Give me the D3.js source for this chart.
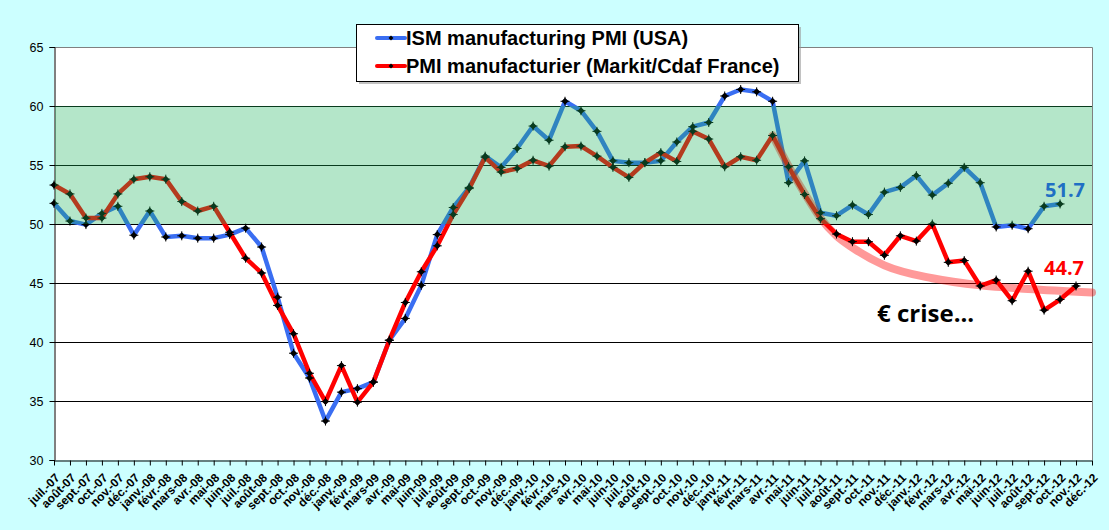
<!DOCTYPE html>
<html>
<head>
<meta charset="utf-8">
<script src="https://cdn.jsdelivr.net/npm/d3@7"></script>
<style>
  html, body { margin: 0; padding: 0; background: #ccffff; }
  svg { display: block; font-family: "Liberation Sans", Arial, sans-serif; }
</style>
</head>
<body>
<svg id="chart"></svg>
<script>
// month labels, juil.-07 .. déc.-12
const months = [
  'juil.-07', 'août-07', 'sept.-07', 'oct.-07', 'nov.-07', 'déc.-07',
  'janv.-08', 'févr.-08', 'mars-08', 'avr.-08', 'mai-08', 'juin-08',
  'juil.-08', 'août-08', 'sept.-08', 'oct.-08', 'nov.-08', 'déc.-08',
  'janv.-09', 'févr.-09', 'mars-09', 'avr.-09', 'mai-09', 'juin-09',
  'juil.-09', 'août-09', 'sept.-09', 'oct.-09', 'nov.-09', 'déc.-09',
  'janv.-10', 'févr.-10', 'mars-10', 'avr.-10', 'mai-10', 'juin-10',
  'juil.-10', 'août-10', 'sept.-10', 'oct.-10', 'nov.-10', 'déc.-10',
  'janv.-11', 'févr.-11', 'mars-11', 'avr.-11', 'mai-11', 'juin-11',
  'juil.-11', 'août-11', 'sept.-11', 'oct.-11', 'nov.-11', 'déc.-11',
  'janv.-12', 'févr.-12', 'mars-12', 'avr.-12', 'mai-12', 'juin-12',
  'juil.-12', 'août-12', 'sept.-12', 'oct.-12', 'nov.-12', 'déc.-12'
];

const ismUSA = [
  51.75, 50.25, 49.95, 50.9, 51.5, 49.05,
  51.1, 48.9, 49.0, 48.8, 48.8, 49.1,
  49.65, 48.05, 43.8, 39.05, 36.95, 33.3,
  35.75, 36.05, 36.6, 40.15, 42.0, 44.8,
  49.1, 51.4, 53.1, 55.75, 54.8, 56.4,
  58.3, 57.1, 60.4, 59.6, 57.85, 55.35,
  55.2, 55.2, 55.35, 56.95, 58.25, 58.6,
  60.85, 61.4, 61.2, 60.4, 53.5, 55.35,
  50.95, 50.7, 51.6, 50.8, 52.7, 53.1,
  54.1, 52.45, 53.45, 54.8, 53.5, 49.75,
  49.9, 49.6, 51.5, 51.7, null, null
];

const pmiFrance = [
  53.3, 52.55, 50.5, 50.5, 52.55, 53.8,
  54.0, 53.8, 51.9, 51.1, 51.5, 49.3,
  47.1, 45.85, 43.1, 40.7, 37.35, 34.95,
  38.0, 34.9, 36.6, 40.15, 43.35, 45.95,
  48.15, 50.8, 53.0, 55.65, 54.4, 54.7,
  55.4, 54.9, 56.55, 56.6, 55.75, 54.8,
  53.95, 55.2, 56.05, 55.3, 57.85, 57.2,
  54.85, 55.7, 55.4, 57.5, 54.85, 52.5,
  50.45, 49.15, 48.5, 48.5, 47.35, 49.0,
  48.55, 50.0, 46.75, 46.9, 44.75, 45.25,
  43.5, 46.0, 42.7, 43.6, 44.75, null
];

// hand-drawn "€ crise" trend: [month index, value]
const trendIdx = [45, 46, 47, 48, 49, 50, 52, 55, 58, 61, 65];
const trendVal = [57.5, 54.9, 52.6, 50.5, 49.0, 48.0, 46.5, 45.4, 44.8, 44.5, 44.2];

const yTicks = [30, 35, 40, 45, 50, 55, 60, 65];
const band = [50, 60];

const W = 1109, H = 530;
const plot = { x1: 54, y1: 47, x2: 1092, y2: 460 };

const svg = d3.select('#chart').attr('width', W).attr('height', H);
svg.append('rect').attr('width', W).attr('height', H).attr('fill', '#ccffff');

const x = d3.scalePoint().domain(months).range([plot.x1, plot.x2]);
const xi = i => x(months[i]);
const y = d3.scaleLinear().domain([30, 65]).range([plot.y2, plot.y1]);

// plot area
svg.append('rect')
  .attr('x', plot.x1).attr('y', plot.y1)
  .attr('width', plot.x2 - plot.x1).attr('height', plot.y2 - plot.y1)
  .attr('fill', '#fff');

// grid
svg.append('g').selectAll('line')
  .data(yTicks.filter(d => d > 30 && d < 65))
  .join('line')
  .attr('x1', plot.x1).attr('x2', plot.x2)
  .attr('y1', d => Math.round(y(d)) + 0.5).attr('y2', d => Math.round(y(d)) + 0.5)
  .attr('stroke', '#000').attr('stroke-width', 1);

// grey top/right border
svg.append('path')
  .attr('d', `M${plot.x1},${plot.y1 + 0.5}H${plot.x2 + 0.5}V${plot.y2}`)
  .attr('fill', 'none').attr('stroke', '#808080');

// y axis
const yAxis = svg.append('g')
  .attr('transform', `translate(${plot.x1 + 0.5},0)`)
  .call(d3.axisLeft(y).tickValues(yTicks).tickSize(5).tickPadding(6).tickFormat(d3.format('d')));
yAxis.select('.domain').attr('stroke', '#000');
yAxis.selectAll('text').attr('font-size', 12.5).attr('fill', '#000').attr('font-family', 'Liberation Sans, Arial');

// x axis
const xAxis = svg.append('g')
  .attr('transform', `translate(0,${plot.y2 + 0.5})`)
  .call(d3.axisBottom(x).tickSize(5).tickSizeOuter(0));
xAxis.select('.domain').attr('stroke', '#000');
xAxis.selectAll('text')
  .attr('font-size', 12).attr('font-weight', 'bold').attr('fill', '#000')
  .attr('text-anchor', 'end')
  .attr('x', 0).attr('y', 0).attr('dy', 0)
  .attr('transform', 'translate(6,18) rotate(-45)');

// series
const lineFn = d3.line()
  .defined(d => d != null)
  .x((d, i) => xi(i))
  .y(d => y(d));

const series = [
  { values: ismUSA, color: '#3a6ef2' },
  { values: pmiFrance, color: '#ff0000' }
];

// markers: small diamond with a cross
const marker = 'M0,-3.5L3.5,0L0,3.5L-3.5,0Z';

series.forEach(s => {
  svg.append('path')
    .attr('d', lineFn(s.values))
    .attr('fill', 'none').attr('stroke', s.color)
    .attr('stroke-width', 4.5).attr('stroke-linejoin', 'round');
});

// trend
const trendLine = d3.line().curve(d3.curveMonotoneX)
  .x(d => xi(d[0])).y(d => y(d[1]));
svg.append('path')
  .attr('d', trendLine(trendIdx.map((t, i) => [t, trendVal[i]])))
  .attr('fill', 'none').attr('stroke', '#ff0000').attr('stroke-opacity', 0.4)
  .attr('stroke-width', 8).attr('stroke-linecap', 'round');

series.forEach(s => {
  const g = svg.append('g');
  s.values.forEach((v, i) => {
    if (v == null) return;
    const m = g.append('g').attr('transform', `translate(${xi(i)},${y(v)})`);
    m.append('path').attr('d', marker).attr('fill', '#000');
    m.append('path').attr('d', 'M-4.5,0H4.5M0,-4.5V4.5').attr('stroke', '#000').attr('stroke-width', 1);
  });
});

// green zone on top, translucent
svg.append('rect')
  .attr('x', plot.x1 + 1).attr('y', y(band[1]))
  .attr('width', plot.x2 - plot.x1 - 1).attr('height', y(band[0]) - y(band[1]))
  .attr('fill', 'rgb(27,180,90)').attr('fill-opacity', 0.33);

// end labels
svg.append('text')
  .attr('x', xi(63) - 15).attr('y', y(ismUSA[63]) - 7)
  .attr('font-family', 'Open Sans, sans-serif').attr('font-weight', 'bold')
  .attr('font-size', 20).attr('fill', '#1f6fc4')
  .text('51.7');
svg.append('text')
  .attr('x', xi(64) - 32).attr('y', y(pmiFrance[64]) - 11)
  .attr('font-family', 'Open Sans, sans-serif').attr('font-weight', 'bold')
  .attr('font-size', 20).attr('fill', '#ff0000')
  .text('44.7');
svg.append('text')
  .attr('x', 877).attr('y', 322)
  .attr('font-family', 'Open Sans, sans-serif').attr('font-weight', 'bold')
  .attr('font-size', 24).attr('fill', '#000')
  .text('€ crise...');

// legend
const lg = svg.append('g').attr('transform', 'translate(356,24)');
lg.append('rect').attr('x', 3).attr('y', 3).attr('width', 442).attr('height', 57).attr('fill', '#999').attr('opacity', 0.6);
lg.append('rect').attr('x', 0.5).attr('y', 0.5).attr('width', 442).attr('height', 57)
  .attr('fill', '#fff').attr('stroke', '#000');
const legendItems = [
  { label: 'ISM manufacturing PMI (USA)', color: '#3a6ef2' },
  { label: 'PMI manufacturier (Markit/Cdaf France)', color: '#ff0000' }
];
legendItems.forEach((d, i) => {
  const yy = 14 + i * 28;
  lg.append('line').attr('x1', 21).attr('x2', 49).attr('y1', yy).attr('y2', yy)
    .attr('stroke', d.color).attr('stroke-width', 4).attr('stroke-linecap', 'round');
  lg.append('path').attr('transform', `translate(35,${yy}) scale(0.7)`).attr('d', marker).attr('fill', '#000');
  lg.append('text').attr('x', 50).attr('y', yy + 7)
    .attr('font-size', 20).attr('font-weight', 'bold').attr('fill', '#000')
    .text(d.label);
});
</script>
</body>
</html>
